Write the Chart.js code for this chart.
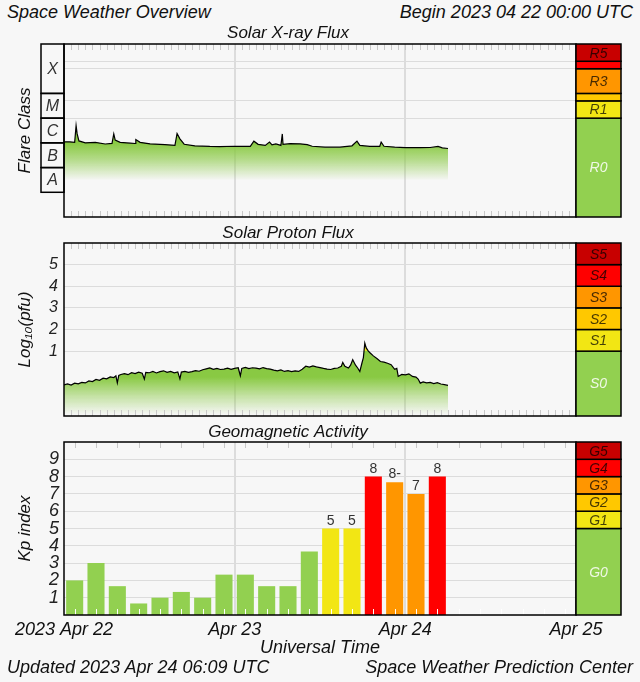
<!DOCTYPE html>
<html>
<head>
<meta charset="utf-8">
<script src="https://cdn.jsdelivr.net/npm/chart.js@4.4.0/dist/chart.umd.min.js"></script>
<style>
  body { margin: 0; width: 640px; height: 682px; background: #f7f7f7; position: relative; overflow: hidden;
         font-family: "Liberation Sans", Arial, sans-serif; font-style: italic; color: #111; }
  .txt { position: absolute; font-size: 18px; line-height: 20px; white-space: nowrap; }
  canvas { position: absolute; left: 0; }
</style>
</head>
<body>
<div class="txt" style="left:7px;top:2px">Space Weather Overview</div>
<div class="txt" style="right:7px;top:2px">Begin 2023 04 22 00:00 UTC</div>
<canvas id="xrayChart" width="640" height="203" style="top:20px"></canvas>
<canvas id="protonChart" width="640" height="200" style="top:223px"></canvas>
<canvas id="kpChart" width="640" height="259" style="top:423px"></canvas>
<div class="txt" style="left:7px;top:657px">Updated 2023 Apr 24 06:09 UTC</div>
<div class="txt" style="right:7px;top:657px">Space Weather Prediction Center</div>
<script>
// hours since 2023-04-22 00:00 UTC
const dayTicks = [0, 24, 48, 72];
const dayLabels = ['2023 Apr 22', 'Apr 23', 'Apr 24', 'Apr 25'];

// GOES X-ray flux (W/m2)
const xrayHours = [0, 0.8, 1.5, 1.7, 1.85, 2.1, 3, 4.4, 5.8, 6.75,
    7, 7.2, 7.9, 9.3, 10, 10.1, 10.7, 12.1, 14.2, 15.6,
    15.9, 16.3, 16.9, 18.4, 20.5, 21.9, 24, 26.2, 26.7, 27.3,
    28.3, 28.9, 29.25, 29.8, 30.5, 30.7, 30.8, 31.8, 33.2, 34.2,
    34.9, 36.7, 38.8, 40.5, 41.2, 41.6, 43, 44.4, 44.6, 45,
    46.5, 48, 50.1, 51.5, 52.6, 53.2, 54];
const xrayFlux = [1.1e-6, 1.1e-6, 1.05e-6, 5.0e-6, 2.3e-6, 1.2e-6, 1.0e-6, 1.05e-6, 9.0e-7, 9.5e-7,
    2.3e-6, 1.3e-6, 1.05e-6, 9.7e-7, 9.4e-7, 1.36e-6, 1.05e-6, 9.1e-7, 8.5e-7, 8.0e-7,
    2.4e-6, 1.45e-6, 8.8e-7, 7.6e-7, 7.2e-7, 7.1e-7, 7.3e-7, 7.2e-7, 1.17e-6, 8.7e-7,
    7.9e-7, 1.07e-6, 8.3e-7, 9.0e-7, 7.9e-7, 2.3e-6, 8.7e-7, 9.3e-7, 9.1e-7, 8.5e-7,
    7.3e-7, 6.7e-7, 6.7e-7, 7.6e-7, 1.17e-6, 7.9e-7, 7.2e-7, 7.2e-7, 1.07e-6, 7.3e-7,
    6.7e-7, 6.45e-7, 6.45e-7, 6.5e-7, 7.2e-7, 6.3e-7, 5.9e-7];
const xrayGrid = [1e-5, 5e-5, 1e-3, 2e-3];
const flareClasses = ['A', 'B', 'C', 'M', 'X'];
const flareEdges = [1e-8, 1e-7, 1e-6, 1e-5, 1e-4, 1e-2];
const rLabels = ['R0', 'R1', 'R2', 'R3', 'R4', 'R5'];
const rEdges = [1e-9, 1e-5, 5e-5, 1e-4, 1e-3, 2e-3, 1e-2];

// GOES >=10 MeV protons, log10(pfu)
const protonHours = [0, 0.5, 1, 1.5, 2, 2.5, 3, 3.5, 4, 4.5,
    5, 5.5, 6, 6.5, 7, 7.3, 7.5, 7.7, 8, 8.5,
    9, 9.5, 10, 10.5, 11, 11.3, 11.5, 12, 12.5, 13,
    13.5, 14, 14.5, 15, 15.5, 16, 16.3, 16.5, 17, 17.5,
    18, 18.5, 19, 19.5, 20, 20.5, 21, 21.5, 22, 22.5,
    23, 23.5, 24, 24.5, 24.8, 25, 25.5, 26, 26.5, 27,
    27.5, 28, 28.5, 29, 29.5, 30, 30.5, 31, 31.5, 32,
    32.5, 33, 33.5, 34, 34.5, 35, 35.5, 36, 36.5, 37,
    37.5, 38, 38.5, 39, 39.2, 39.5, 40, 40.3, 40.6, 41,
    41.3, 41.6, 41.9, 42.1, 42.3, 42.5, 42.8, 43.1, 43.5, 44,
    44.5, 45, 45.5, 46, 46.5, 46.8, 47, 47.5, 48, 48.5,
    49, 49.5, 49.8, 50.1, 50.5, 51, 51.5, 52, 52.5, 53,
    53.5, 54];
const protonLog = [-0.56, -0.52, -0.57, -0.48, -0.51, -0.45, -0.47, -0.38, -0.41, -0.31,
    -0.35, -0.25, -0.28, -0.19, -0.22, -0.14, -0.47, -0.12, -0.08, -0.04,
    -0.09, 0.0, -0.04, 0.03, -0.02, -0.29, 0.02, 0.0, 0.06, -0.01,
    0.05, 0.09, 0.02, 0.06, 0.0, 0.04, -0.28, 0.03, 0.06, 0.02,
    0.05, 0.1, 0.07, 0.14, 0.18, 0.22, 0.16, 0.2, 0.15, 0.17,
    0.21, 0.16, 0.2, 0.23, -0.14, 0.2, 0.25, 0.19, 0.23, 0.21,
    0.18, 0.24, 0.19, 0.17, 0.12, 0.09, 0.13, 0.06, 0.1, 0.05,
    0.09, 0.06, 0.16, 0.3, 0.26, 0.32, 0.27, 0.24, 0.2, 0.17,
    0.15, 0.2, 0.22, 0.3, 0.48, 0.3, 0.22, 0.35, 0.6, 0.35,
    0.22, 0.06, 0.45, 0.7, 1.37, 1.15, 1.0, 0.9, 0.78, 0.66,
    0.52, 0.49, 0.44, 0.37, 0.16, 0.2, -0.17, -0.08, -0.1, -0.05,
    -0.17, -0.2, -0.29, -0.48, -0.42, -0.47, -0.45, -0.5, -0.46, -0.52,
    -0.55, -0.58];
const protonTicks = [1, 2, 3, 4, 5];
const sLabels = ['S0', 'S1', 'S2', 'S3', 'S4', 'S5'];
const sEdges = [-2, 1, 2, 3, 4, 5, 6];

// planetary K index, 3-hour intervals (bar centres)
const kpHours = [1.5, 4.5, 7.5, 10.5, 13.5, 16.5, 19.5, 22.5, 25.5, 28.5, 31.5, 34.5, 37.5, 40.5, 43.5, 46.5, 49.5, 52.5];
const kpText = ['2', '3', '2-', '1-', '1', '1+', '1', '2+', '2+', '2-', '2-', '4-', '5', '5', '8', '8-', '7', '8'];
const kpTicks = [1, 2, 3, 4, 5, 6, 7, 8, 9];
const gLabels = ['G0', 'G1', 'G2', 'G3', 'G4', 'G5'];
const gEdges = [0, 5, 6, 7, 8, 9, 10];

const scaleColors = ['#92d050', '#f2e614', '#ffc800', '#ff9600', '#ff0000', '#c80000'];
const GREEN = '137,201,67';
const FONT = '"Liberation Sans", Arial, sans-serif';

Chart.defaults.font.family = FONT;
Chart.defaults.font.style = 'italic';
Chart.defaults.color = '#1a1a1a';
Chart.defaults.animation = false;
Chart.defaults.plugins.legend.display = false;
Chart.defaults.plugins.tooltip.enabled = false;

function kpValue(t) {
    let v = parseFloat(t);
    if (t.endsWith('+')) v += 1 / 3;
    if (t.endsWith('-')) v -= 1 / 3;
    return v;
}
const kpValues = kpText.map(kpValue);

function levelColor(v, edges) {
    let i = 0;
    while (i < edges.length - 2 && v >= edges[i + 1]) i++;
    return scaleColors[i];
}

// frame, hour ticks, severity column and (optional) flare class column
const swpcFrame = {
    id: 'swpcFrame',
    afterDatasetsDraw(chart, args, opts) {
        const {ctx, chartArea: a} = chart;
        const x = chart.scales.x, y = chart.scales.y;
        ctx.save();
        ctx.lineWidth = 1;
        opts.tickHours.forEach(h => {
            const px = Math.round(x.getPixelForValue(h)) + 0.5;
            ctx.strokeStyle = opts.topTick;
            ctx.beginPath(); ctx.moveTo(px, a.top); ctx.lineTo(px, a.top + 6); ctx.stroke();
            ctx.strokeStyle = opts.bottomTick;
            ctx.beginPath(); ctx.moveTo(px, a.bottom); ctx.lineTo(px, a.bottom - 6); ctx.stroke();
        });
        ctx.strokeStyle = '#000';
        ctx.lineWidth = 1.5;
        ctx.strokeRect(a.left, a.top, a.right - a.left, a.bottom - a.top);

        ctx.textAlign = 'center';
        ctx.textBaseline = 'middle';
        ctx.font = 'italic 14px ' + FONT;
        const sx = a.right, sw = 45;
        opts.labels.forEach((lab, i) => {
            const yb = y.getPixelForValue(opts.edges[i]);
            const yt = y.getPixelForValue(opts.edges[i + 1]);
            ctx.fillStyle = scaleColors[i];
            ctx.fillRect(sx, yt, sw, yb - yt);
            ctx.strokeRect(sx, yt, sw, yb - yt);
            if (yb - yt > 12) {
                ctx.fillStyle = i === 0 ? 'rgba(255,255,255,0.85)' : 'rgba(0,0,0,0.72)';
                ctx.fillText(lab, sx + sw / 2, (yt + yb) / 2 + 1);
            }
        });

        if (opts.classes) {
            ctx.font = 'italic 16px ' + FONT;
            opts.classes.forEach((c, i) => {
                const yb = y.getPixelForValue(opts.classEdges[i]);
                const yt = y.getPixelForValue(opts.classEdges[i + 1]);
                ctx.strokeRect(41, yt, a.left - 41, yb - yt);
                ctx.fillStyle = '#333';
                ctx.fillText(c, (41 + a.left) / 2, (yt + yb) / 2 + 1);
            });
        }
        ctx.restore();
    }
};

const kpBarLabels = {
    id: 'kpBarLabels',
    afterDatasetsDraw(chart) {
        const ctx = chart.ctx;
        const meta = chart.getDatasetMeta(0);
        ctx.save();
        ctx.font = 'normal 14px ' + FONT;
        ctx.fillStyle = '#333';
        ctx.textAlign = 'center';
        ctx.textBaseline = 'alphabetic';
        meta.data.forEach((bar, i) => {
            if (kpValues[i] >= 5) ctx.fillText(kpText[i], bar.x, bar.y - 4);
        });
        ctx.restore();
    }
};

const hourly = [];
for (let h = 1; h < 72; h++) hourly.push(h);
const threeHourly = [];
for (let h = 1.5; h < 72; h += 3) threeHourly.push(h);

function timeAxis(showLabels) {
    return {
        type: 'linear', min: 0, max: 72, offset: false,
        afterBuildTicks: s => { s.ticks = dayTicks.map(v => ({value: v})); },
        afterFit: s => { s.height = showLabels ? 45 : 0; },
        border: {display: false},
        grid: {
            drawTicks: false, lineWidth: 2, offset: false,
            color: c => (c.tick && c.tick.value > 0 && c.tick.value < 72) ? '#dcdcdc' : 'rgba(0,0,0,0)'
        },
        ticks: {
            display: showLabels, autoSkip: false, maxRotation: 0, padding: 4,
            font: {size: 18}, color: '#111',
            callback: (v, i) => dayLabels[dayTicks.indexOf(v)]
        },
        title: {
            display: showLabels, text: 'Universal Time', font: {size: 18},
            color: '#111', padding: {top: 0, bottom: 1}
        }
    };
}

function valueAxis(extra) {
    return Object.assign({
        afterFit: s => { s.width = 64; s.paddingTop = 0; s.paddingBottom = 0; },
        border: {display: false},
        grid: {drawTicks: false, color: '#dcdcdc', lineWidth: 1},
    }, extra);
}

function titleOpts(text, top, bottom, lh) {
    return {display: true, text: text, color: '#111',
            font: {size: 17, weight: 'normal', lineHeight: lh},
            padding: {top: top, bottom: bottom}};
}

function XrayChart() {
    const ctx = document.getElementById('xrayChart');
    new Chart(ctx, {
        type: 'line',
        data: {
            datasets: [{
                data: xrayHours.map((h, i) => ({x: h, y: xrayFlux[i]})),
                borderColor: '#000', borderWidth: 1.2, pointRadius: 0, tension: 0,
                fill: 'start',
                backgroundColor: c => {
                    const ch = c.chart;
                    if (!ch.chartArea) return 'rgb(' + GREEN + ')';
                    const y = ch.scales.y;
                    const g = ch.ctx.createLinearGradient(0, y.getPixelForValue(1e-6), 0, y.getPixelForValue(3e-8));
                    g.addColorStop(0, 'rgba(' + GREEN + ',1)');
                    g.addColorStop(0.45, 'rgba(' + GREEN + ',0.6)');
                    g.addColorStop(1, 'rgba(' + GREEN + ',0)');
                    return g;
                }
            }]
        },
        options: {
            responsive: false,
            layout: {padding: {left: 0, right: 64, top: 0, bottom: 6}},
            scales: {
                x: timeAxis(false),
                y: valueAxis({
                    type: 'logarithmic', min: 1e-9, max: 1e-2,
                    afterBuildTicks: s => { s.ticks = xrayGrid.map(v => ({value: v})); },
                    ticks: {display: false},
                    title: {display: true, text: 'Flare Class', font: {size: 17}, color: '#111', padding: {top: 15, bottom: 0}}
                })
            },
            plugins: {
                title: titleOpts('Solar X-ray Flux', 3, 1, '20px'),
                swpcFrame: {
                    tickHours: hourly, topTick: '#c8c8c8', bottomTick: '#c8c8c8',
                    labels: rLabels, edges: rEdges, classes: flareClasses, classEdges: flareEdges
                }
            }
        },
        plugins: [swpcFrame]
    });
}

function ProtonChart() {
    const ctx = document.getElementById('protonChart');
    new Chart(ctx, {
        type: 'line',
        data: {
            datasets: [{
                data: protonHours.map((h, i) => ({x: h, y: protonLog[i]})),
                borderColor: '#000', borderWidth: 1.2, pointRadius: 0, tension: 0,
                fill: 'start',
                backgroundColor: c => {
                    const ch = c.chart;
                    if (!ch.chartArea) return 'rgb(' + GREEN + ')';
                    const y = ch.scales.y;
                    const y0 = y.getPixelForValue(1.4), y1 = y.getPixelForValue(-1.95);
                    const f = v => (y.getPixelForValue(v) - y0) / (y1 - y0);
                    const g = ch.ctx.createLinearGradient(0, y0, 0, y1);
                    g.addColorStop(0, 'rgb(240,228,30)');
                    g.addColorStop(f(1) - 0.01, 'rgb(240,228,30)');
                    g.addColorStop(f(1), 'rgba(' + GREEN + ',1)');
                    g.addColorStop(f(-0.2), 'rgba(' + GREEN + ',1)');
                    g.addColorStop(f(-1.1), 'rgba(' + GREEN + ',0.45)');
                    g.addColorStop(1, 'rgba(' + GREEN + ',0)');
                    return g;
                }
            }]
        },
        options: {
            responsive: false,
            layout: {padding: {left: 0, right: 64, top: 0, bottom: 7}},
            scales: {
                x: timeAxis(false),
                y: valueAxis({
                    type: 'linear', min: -2, max: 6,
                    afterBuildTicks: s => { s.ticks = protonTicks.map(v => ({value: v})); },
                    ticks: {font: {size: 16}, color: '#222', padding: 6, autoSkip: false},
                    title: {display: true, text: 'Log\u2081\u2080(pfu)', font: {size: 17}, color: '#111', padding: {top: 15, bottom: 0}}
                })
            },
            plugins: {
                title: titleOpts('Solar Proton Flux', 0, 0, '20px'),
                swpcFrame: {
                    tickHours: hourly, topTick: '#c8c8c8', bottomTick: '#c8c8c8',
                    labels: sLabels, edges: sEdges
                }
            }
        },
        plugins: [swpcFrame]
    });
}

function KpChart() {
    const ctx = document.getElementById('kpChart');
    new Chart(ctx, {
        type: 'bar',
        data: {
            datasets: [{
                data: kpHours.map((h, i) => ({x: h, y: kpValues[i]})),
                backgroundColor: kpValues.map(v => levelColor(v, gEdges)),
                borderWidth: 0,
                barPercentage: 0.8,
                categoryPercentage: 1
            }]
        },
        options: {
            responsive: false,
            layout: {padding: {left: 0, right: 64, top: 0, bottom: 22}},
            scales: {
                x: timeAxis(true),
                y: valueAxis({
                    type: 'linear', min: 0, max: 10,
                    afterBuildTicks: s => { s.ticks = kpTicks.map(v => ({value: v})); },
                    ticks: {font: {size: 18}, color: '#222', padding: 5, autoSkip: false},
                    title: {display: true, text: 'Kp index', font: {size: 17}, color: '#111', padding: {top: 15, bottom: 0}}
                })
            },
            plugins: {
                title: titleOpts('Geomagnetic Activity', 0, 0, '19px'),
                swpcFrame: {
                    tickHours: threeHourly, topTick: '#c8c8c8', bottomTick: '#ffffff',
                    labels: gLabels, edges: gEdges
                }
            }
        },
        plugins: [swpcFrame, kpBarLabels]
    });
}

XrayChart();
ProtonChart();
KpChart();
</script>
</body>
</html>
